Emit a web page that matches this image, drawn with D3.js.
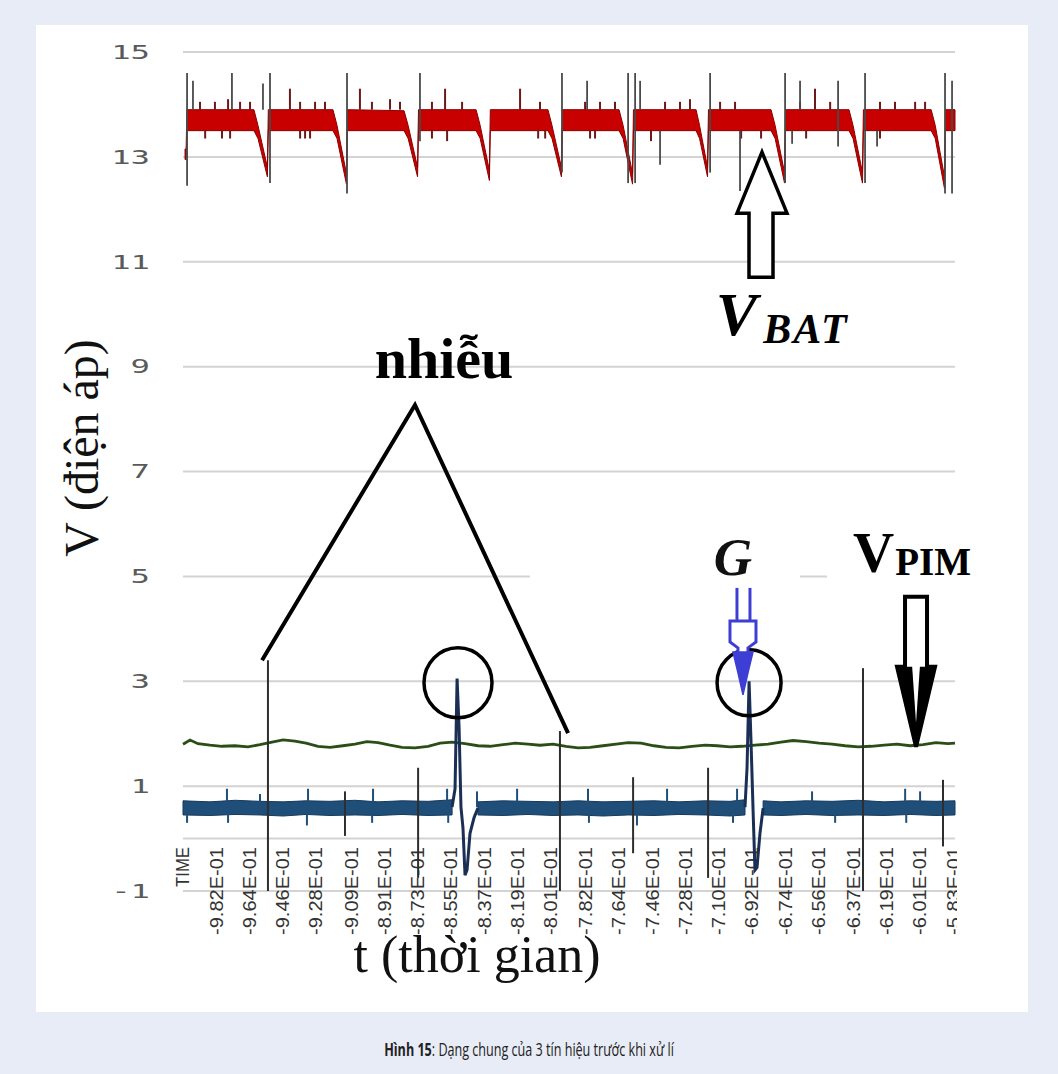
<!DOCTYPE html>
<html>
<head>
<meta charset="utf-8">
<script src="https://cdn.jsdelivr.net/npm/d3@7"></script>
<style>
    html, body { margin: 0; padding: 0; background: #e8ecf6; }
    svg { display: block; }
</style>
</head>
<body>
<svg id="chart" width="1058" height="1074"></svg>
<script>
// time in ms, voltage in V
let timeTicks = [-1000, -982, -964, -946, -928, -909, -891, -873, -855, -837, -819, -801,
    -782, -764, -746, -728, -710, -692, -674, -656, -637, -619, -601, -583];
let timeLabels = ['TIME', '-9.82E-01', '-9.64E-01', '-9.46E-01', '-9.28E-01', '-9.09E-01',
    '-8.91E-01', '-8.73E-01', '-8.55E-01', '-8.37E-01', '-8.19E-01', '-8.01E-01',
    '-7.82E-01', '-7.64E-01', '-7.46E-01', '-7.28E-01', '-7.10E-01', '-6.92E-01',
    '-6.74E-01', '-6.56E-01', '-6.37E-01', '-6.19E-01', '-6.01E-01', '-5.83E-01'];
let voltTicks = [15, 13, 11, 9, 7, 5, 3, 1, -1];
let gridVolts = [15, 13, 11, 9, 7, 5, 3, 1, 0, -1];

// V_BAT band: [t, low, high]
let vbatBand = [
    [-998.9, 12.95, 13.15], [-998.3, 12.95, 13.15], [-997.9, 13.5, 13.9],
    [-961.6, 13.5, 13.9], [-959.4, 13.35, 13.6], [-954.3, 12.62, 12.8], [-953.8, 13.5, 13.9],
    [-918.8, 13.5, 13.9], [-916.6, 13.35, 13.6], [-911.5, 12.48, 12.68], [-911.0, 13.5, 13.9],
    [-880.3, 13.5, 13.88], [-878.1, 13.35, 13.6], [-873.0, 12.62, 12.8], [-872.5, 13.5, 13.9],
    [-841.3, 13.5, 13.9], [-839.1, 13.35, 13.6], [-834.1, 12.55, 12.74], [-833.6, 13.5, 13.9],
    [-802.4, 13.5, 13.9], [-800.2, 13.35, 13.6], [-795.1, 12.62, 12.8], [-794.6, 13.5, 13.9],
    [-763.9, 13.5, 13.9], [-761.7, 13.35, 13.6], [-756.6, 12.48, 12.68], [-756.1, 13.5, 13.9],
    [-722.2, 13.5, 13.9], [-720.3, 13.35, 13.6], [-716.0, 12.62, 12.8], [-715.5, 13.5, 13.9],
    [-681.6, 13.5, 13.9], [-679.4, 13.35, 13.6], [-674.3, 12.5, 12.7], [-673.8, 13.5, 13.9],
    [-639.4, 13.5, 13.9], [-637.2, 13.35, 13.6], [-632.1, 12.5, 12.7], [-631.6, 13.5, 13.9],
    [-594.9, 13.5, 13.9], [-592.7, 13.35, 13.6], [-587.7, 12.4, 12.62], [-587.2, 13.5, 13.9],
    [-582.0, 13.5, 13.9]
];
// small ripples on the V_BAT band: [t, from, to]
let vbatTicks = [
    [-990.8, 13.9, 14.05], [-982.7, 13.9, 14.05], [-975.6, 13.9, 14.1], [-969.1, 13.9, 14.05],
    [-963.7, 13.9, 14.05], [-942.1, 13.9, 14.3], [-936.6, 13.9, 14.05], [-928.5, 13.9, 14.05],
    [-923.1, 13.9, 14.05], [-904.2, 13.9, 14.3], [-897.7, 13.9, 14.05], [-887.9, 13.9, 14.1],
    [-882.5, 13.9, 14.05], [-865.2, 13.9, 14.05], [-858.1, 13.9, 14.3], [-848.9, 13.9, 14.05],
    [-817.5, 13.9, 14.3], [-806.7, 13.9, 14.05], [-782.3, 13.9, 14.05], [-774.2, 13.9, 14.05],
    [-766.1, 13.9, 14.05], [-739.0, 13.9, 14.05], [-730.9, 13.9, 14.05], [-725.5, 13.9, 14.1],
    [-709.2, 13.9, 14.05], [-701.1, 13.9, 14.05], [-665.9, 13.9, 14.05], [-657.8, 13.9, 14.3],
    [-649.6, 13.9, 14.05], [-622.6, 13.9, 14.05], [-614.5, 13.9, 14.05], [-603.6, 13.9, 14.05],
    [-598.2, 13.9, 14.05],
    [-988.0, 13.5, 13.35], [-978.9, 13.5, 13.35], [-974.5, 13.5, 13.35], [-936.6, 13.5, 13.35],
    [-933.9, 13.5, 13.35], [-931.2, 13.5, 13.35], [-865.2, 13.5, 13.35], [-857.0, 13.5, 13.3],
    [-807.7, 13.5, 13.35], [-803.9, 13.5, 13.35], [-779.6, 13.5, 13.35], [-776.9, 13.5, 13.35],
    [-746.6, 13.5, 13.3], [-697.8, 13.5, 13.35], [-687.0, 13.5, 13.35], [-662.6, 13.5, 13.35],
    [-622.6, 13.5, 13.35]
];
// grey switching spikes on V_BAT: [t, top, bottom]
let vbatSpikes = [
    [-997.8, 14.6, 12.45], [-994.6, 14.45, 13.9], [-973.5, 14.6, 13.9], [-956.7, 14.4, 13.9],
    [-952.9, 14.6, 12.5], [-911.2, 14.6, 12.3], [-871.7, 14.6, 13.3], [-794.8, 14.6, 12.7],
    [-781.2, 14.45, 13.9], [-759.0, 14.6, 12.5], [-755.2, 14.6, 12.5], [-752.5, 14.45, 13.9],
    [-741.7, 13.5, 12.85], [-714.6, 14.6, 12.7], [-698.4, 13.5, 12.35], [-674.0, 14.6, 12.5],
    [-670.2, 13.5, 13.25], [-665.9, 14.45, 13.9], [-645.3, 14.45, 13.2], [-630.7, 14.6, 12.5],
    [-624.2, 13.5, 13.2], [-587.4, 14.6, 12.3], [-583.6, 14.45, 12.3]
];

// V_PIM: [t, v]
let vpim = [
    [-1000.0, 1.80], [-996.2, 1.88], [-991.9, 1.81], [-985.4, 1.78], [-978.9, 1.76],
    [-971.8, 1.77], [-964.8, 1.75], [-958.3, 1.79], [-951.8, 1.84], [-945.8, 1.88],
    [-939.4, 1.86], [-933.4, 1.82], [-926.9, 1.76], [-920.4, 1.74], [-913.4, 1.77],
    [-906.9, 1.80], [-900.4, 1.85], [-894.4, 1.83], [-887.9, 1.78], [-881.4, 1.74],
    [-874.4, 1.73], [-867.3, 1.76], [-860.8, 1.82], [-854.3, 1.84], [-847.3, 1.81],
    [-840.3, 1.77], [-833.8, 1.76], [-826.7, 1.79], [-820.2, 1.82], [-813.2, 1.80],
    [-806.7, 1.78], [-799.6, 1.80], [-792.6, 1.76], [-786.1, 1.73], [-779.6, 1.74],
    [-772.6, 1.77], [-765.5, 1.80], [-759.0, 1.83], [-752.0, 1.82], [-745.0, 1.77],
    [-738.5, 1.74], [-731.4, 1.73], [-724.4, 1.76], [-717.3, 1.78], [-710.8, 1.77],
    [-703.8, 1.75], [-697.3, 1.76], [-690.3, 1.78], [-683.2, 1.80], [-676.2, 1.84],
    [-669.7, 1.87], [-662.6, 1.85], [-655.6, 1.82], [-648.6, 1.80], [-641.5, 1.77],
    [-634.5, 1.75], [-627.4, 1.76], [-620.4, 1.78], [-613.4, 1.80], [-606.3, 1.77],
    [-599.3, 1.79], [-592.3, 1.83], [-585.8, 1.81], [-582.0, 1.82]
];

// G band: [t, low, high], null = gap
let gBand = [
    [-1000.0, 0.45, 0.72], [-985.4, 0.44, 0.70], [-971.8, 0.46, 0.73], [-958.3, 0.45, 0.71],
    [-945.8, 0.43, 0.70], [-933.4, 0.46, 0.72], [-920.4, 0.44, 0.71], [-906.9, 0.45, 0.73],
    [-894.4, 0.44, 0.70], [-881.4, 0.46, 0.72], [-867.3, 0.44, 0.71], [-854.3, 0.45, 0.74],
    null,
    [-840.3, 0.45, 0.70], [-826.7, 0.44, 0.72], [-813.2, 0.46, 0.71], [-799.6, 0.44, 0.70],
    [-786.1, 0.45, 0.72], [-772.6, 0.43, 0.70], [-759.0, 0.45, 0.71], [-745.0, 0.44, 0.72],
    [-731.4, 0.46, 0.70], [-717.3, 0.45, 0.72], [-703.8, 0.43, 0.71], [-695.7, 0.45, 0.74],
    null,
    [-685.9, 0.45, 0.72], [-676.2, 0.44, 0.70], [-662.6, 0.46, 0.72], [-648.6, 0.44, 0.71],
    [-634.5, 0.45, 0.73], [-620.4, 0.44, 0.70], [-606.3, 0.46, 0.72], [-592.3, 0.44, 0.71],
    [-582.0, 0.45, 0.72]
];
// small G ripples: [t, from, to]
let gTicks = [
    [-997.8, 0.5, 0.3], [-976.2, 0.6, 0.95], [-975.6, 0.5, 0.3], [-958.3, 0.6, 0.85],
    [-932.9, 0.5, 0.25], [-932.3, 0.6, 0.95], [-897.1, 0.6, 0.95], [-897.6, 0.5, 0.3],
    [-857.0, 0.6, 0.95], [-856.4, 0.5, 0.3], [-840.8, 0.6, 0.9], [-819.1, 0.6, 0.95],
    [-780.7, 0.6, 0.95], [-780.2, 0.5, 0.3], [-754.2, 0.5, 0.25], [-737.9, 0.6, 0.95],
    [-702.2, 0.5, 0.3], [-700.0, 0.6, 0.95], [-659.4, 0.6, 0.9], [-646.9, 0.5, 0.3],
    [-609.0, 0.6, 0.95], [-608.4, 0.5, 0.3], [-600.9, 0.6, 0.9]
];
// the two G pulses: [t, v]
let gPulse1 = [
    [-854.3, 0.6], [-852.7, 0.95], [-851.6, 3.05], [-850.5, 2.1], [-849.5, 0.6],
    [-848.4, 0.2], [-847.3, -0.7], [-846.2, -0.6], [-844.6, 0.1], [-842.4, 0.4], [-840.3, 0.58]
];
let gPulse2 = [
    [-695.7, 0.6], [-694.6, 1.35], [-693.5, 3.0], [-692.4, 1.8], [-691.3, 0.5],
    [-690.3, -0.6], [-689.2, -0.55], [-687.6, 0.1], [-685.9, 0.58]
];
// noise spikes crossing the lower signals: [t, top, bottom]
let noiseSpikes = [
    [-954.0, 3.4, -1.0], [-912.3, 0.9, 0.05], [-872.7, 1.35, -0.75], [-795.9, 2.05, -1.0],
    [-756.3, 1.17, -0.28], [-715.7, 1.35, -0.75], [-631.8, 3.25, -1.0], [-588.5, 1.12, -0.15]
];

let W = 1058, H = 1074;
let svg = d3.select('#chart');
let x = d3.scaleLinear().domain([-1000, -582]).range([183, 955]);
let y = d3.scaleLinear().domain([-1, 15]).range([891, 52]);
let serif = "'Liberation Serif', 'Times New Roman', serif";

// white figure panel
svg.append('rect').attr('x', 36).attr('y', 25).attr('width', 992).attr('height', 987).attr('fill', '#fff');

svg.append('clipPath').attr('id', 'plotClip')
    .append('rect').attr('x', 170).attr('y', 30).attr('width', 787).attr('height', 960);

// grid
svg.append('g').selectAll('line').data(gridVolts).join('line')
    .attr('x1', x(-1000)).attr('x2', x(-582))
    .attr('y1', d => y(d)).attr('y2', d => y(d))
    .attr('stroke', '#d3d3d3').attr('stroke-width', 2);

// y tick labels (wide, stretched digits)
svg.append('g').selectAll('text').data(voltTicks).join('text')
    .attr('transform', d => 'translate(150,' + y(d) + ') scale(1.7,1)')
    .attr('dy', '0.36em')
    .attr('text-anchor', 'end')
    .attr('font-family', "'DejaVu Sans Mono', monospace")
    .attr('font-size', 19)
    .attr('fill', '#5a5a5a')
    .text(d => d);

// x tick labels, rotated
svg.append('g').attr('clip-path', 'url(#plotClip)')
    .selectAll('text').data(timeTicks).join('text')
    .attr('transform', d => 'translate(' + x(d) + ',847) rotate(-90)')
    .attr('dy', '0.36em')
    .attr('text-anchor', 'end')
    .attr('font-family', "'Liberation Sans Narrow', 'Liberation Sans', sans-serif")
    .attr('font-size', 18)
    .attr('textLength', (d, i) => i === 0 ? 40 : 88)
    .attr('lengthAdjust', 'spacingAndGlyphs')
    .attr('fill', '#333')
    .text((d, i) => timeLabels[i]);

// white boxes of the G / V_PIM labels hide the grid line under them
svg.append('rect').attr('x', 530).attr('y', 535).attr('width', 270).attr('height', 50).attr('fill', '#fff');
svg.append('rect').attr('x', 827).attr('y', 525).attr('width', 130).attr('height', 62).attr('fill', '#fff');

let plot = svg.append('g').attr('clip-path', 'url(#plotClip)');

// V_BAT
let bandArea = d3.area()
    .defined(d => d !== null)
    .x(d => x(d[0]))
    .y0(d => y(d[1]))
    .y1(d => y(d[2]));

plot.append('path').datum(vbatBand)
    .attr('d', bandArea)
    .attr('fill', '#c80000')
    .attr('stroke', '#8a0000')
    .attr('stroke-width', 1);

plot.append('g').selectAll('line').data(vbatTicks).join('line')
    .attr('x1', d => x(d[0])).attr('x2', d => x(d[0]))
    .attr('y1', d => y(d[1])).attr('y2', d => y(d[2]))
    .attr('stroke', '#6b1a1a').attr('stroke-width', 2);

plot.append('g').selectAll('line').data(vbatSpikes).join('line')
    .attr('x1', d => x(d[0])).attr('x2', d => x(d[0]))
    .attr('y1', d => y(d[1])).attr('y2', d => y(d[2]))
    .attr('stroke', '#4a4a4a').attr('stroke-width', 1.8);

// V_PIM
plot.append('path').datum(vpim)
    .attr('d', d3.line().x(d => x(d[0])).y(d => y(d[1])))
    .attr('fill', 'none')
    .attr('stroke', '#2a4f16')
    .attr('stroke-width', 2.8);

// G
plot.append('path').datum(gBand)
    .attr('d', bandArea)
    .attr('fill', '#1f4e79')
    .attr('stroke', '#173a5c')
    .attr('stroke-width', 1);

plot.append('g').selectAll('line').data(gTicks).join('line')
    .attr('x1', d => x(d[0])).attr('x2', d => x(d[0]))
    .attr('y1', d => y(d[1])).attr('y2', d => y(d[2]))
    .attr('stroke', '#1f4e79').attr('stroke-width', 2);

let pulseLine = d3.line().x(d => x(d[0])).y(d => y(d[1]));
[gPulse1, gPulse2].forEach(function (p) {
    plot.append('path').datum(p)
        .attr('d', pulseLine)
        .attr('fill', 'none')
        .attr('stroke', '#1b2f55')
        .attr('stroke-width', 3);
});

plot.append('g').selectAll('line').data(noiseSpikes).join('line')
    .attr('x1', d => x(d[0])).attr('x2', d => x(d[0]))
    .attr('y1', d => y(d[1])).attr('y2', d => y(d[2]))
    .attr('stroke', '#2e2e2e').attr('stroke-width', 2);

// annotations (anchored in data coordinates)
let ann = svg.append('g');

// "nhiễu" triangle pointing at noise spikes
ann.append('path')
    .attr('d', d3.line()([[x(-957.2), y(3.4)], [x(-874.4), y(8.27)], [x(-791.5), y(2.01)]]))
    .attr('fill', 'none').attr('stroke', '#000').attr('stroke-width', 4)
    .attr('stroke-linejoin', 'miter');

ann.append('text')
    .attr('x', x(-858.7)).attr('y', y(8.78))
    .attr('text-anchor', 'middle')
    .attr('font-family', serif)
    .attr('font-weight', 'bold')
    .attr('font-size', 58)
    .attr('fill', '#000')
    .text('nhiễu');

// circles round the two G pulses
[[-851.1, 2.97, 34], [-693.5, 2.97, 32]].forEach(function (c) {
    ann.append('ellipse')
        .attr('cx', x(c[0])).attr('cy', y(c[1]))
        .attr('rx', c[2]).attr('ry', c[2] + 1)
        .attr('fill', 'none').attr('stroke', '#000').attr('stroke-width', 3.5);
});

// V_BAT hollow arrow (tip up)
let bx = x(-686.5), by = y(13.09);
ann.append('path')
    .attr('d', d3.line()([[0, 0], [25, 61], [11, 61], [11, 125], [-13, 125], [-13, 61], [-25, 61]]
        .map(p => [bx + p[0], by + p[1]])) + 'Z')
    .attr('fill', '#fff').attr('stroke', '#000').attr('stroke-width', 3.5)
    .attr('stroke-linejoin', 'miter');

let bl = ann.append('text')
    .attr('x', x(-711.5)).attr('y', y(9.6))
    .attr('font-family', serif)
    .attr('font-weight', 'bold').attr('font-style', 'italic')
    .attr('fill', '#000');
bl.append('tspan').attr('font-size', 62).text('V');
bl.append('tspan').attr('font-size', 42).attr('dx', 6).attr('dy', 8)
    .attr('letter-spacing', 2).text('BAT');

// G label and blue arrow
ann.append('text')
    .attr('x', x(-702.2)).attr('y', y(5.03))
    .attr('text-anchor', 'middle')
    .attr('font-family', serif)
    .attr('font-weight', 'bold').attr('font-style', 'italic')
    .attr('font-size', 53)
    .attr('fill', '#111')
    .text('G');

let gx = x(-696.8), gy = y(2.74);
let blue = '#3d3fd4';
[-6, 7].forEach(function (dx) {
    ann.append('line')
        .attr('x1', gx + dx).attr('x2', gx + dx)
        .attr('y1', gy - 107).attr('y2', gy - 74)
        .attr('stroke', blue).attr('stroke-width', 3);
});
ann.append('path')
    .attr('d', d3.line()([[-13, -74], [13, -74], [13, -53], [5, -47], [5, -41], [-5, -41], [-5, -47], [-13, -53]]
        .map(p => [gx + p[0], gy + p[1]])) + 'Z')
    .attr('fill', '#fff').attr('stroke', blue).attr('stroke-width', 3);
ann.append('path')
    .attr('d', d3.line()([[-10, -43], [10, -43], [5, -22], [0, 0], [-5, -22]]
        .map(p => [gx + p[0], gy + p[1]])) + 'Z')
    .attr('fill', blue).attr('stroke', blue).attr('stroke-width', 1.5);

// V_PIM label and arrow (tip down)
let pl = ann.append('text')
    .attr('x', x(-637.2)).attr('y', y(5.08))
    .attr('font-family', serif)
    .attr('font-weight', 'bold')
    .attr('fill', '#000');
pl.append('tspan').attr('font-size', 57).text('V');
pl.append('tspan').attr('font-size', 39).attr('dx', 1).attr('dy', 3).text('PIM');

let px = x(-603.1), py = y(1.75);
ann.append('path')
    .attr('d', d3.line()([[-11, -150], [11, -150], [11, -80], [19, -80], [0, 0], [-19, -80], [-11, -80]]
        .map(p => [px + p[0], py + p[1]])) + 'Z')
    .attr('fill', '#fff').attr('stroke', '#000').attr('stroke-width', 4)
    .attr('stroke-linejoin', 'miter');
ann.append('path')
    .attr('d', d3.line()([[-19, -80], [19, -80], [0, 0]].map(p => [px + p[0], py + p[1]])) + 'Z')
    .attr('fill', '#000');
ann.append('path')
    .attr('d', d3.line()([[-4, -82], [4, -82], [0, -24]].map(p => [px + p[0], py + p[1]])) + 'Z')
    .attr('fill', '#fff');

// axis titles
svg.append('text')
    .attr('transform', 'translate(98,448) rotate(-90)')
    .attr('text-anchor', 'middle')
    .attr('font-family', serif)
    .attr('font-size', 48)
    .attr('fill', '#111')
    .text('V (điện áp)');

svg.append('text')
    .attr('x', 477).attr('y', 972)
    .attr('text-anchor', 'middle')
    .attr('font-family', serif)
    .attr('font-size', 52)
    .attr('fill', '#111')
    .text('t (thời gian)');

// caption, squeezed to the condensed width of the original
let cap = svg.append('text')
    .attr('x', 0).attr('y', 0)
    .attr('text-anchor', 'middle')
    .attr('font-family', "'Open Sans', 'Noto Sans', sans-serif")
    .attr('font-size', 18)
    .attr('fill', '#222');
cap.append('tspan').attr('font-weight', 'bold').text('Hình 15');
cap.append('tspan').text(': Dạng chung của 3 tín hiệu trước khi xử lí');
let capLen = cap.node().getComputedTextLength();
cap.attr('transform', 'translate(' + (W / 2) + ',1056) scale(' + (290 / capLen) + ',1)');
</script>
</body>
</html>
